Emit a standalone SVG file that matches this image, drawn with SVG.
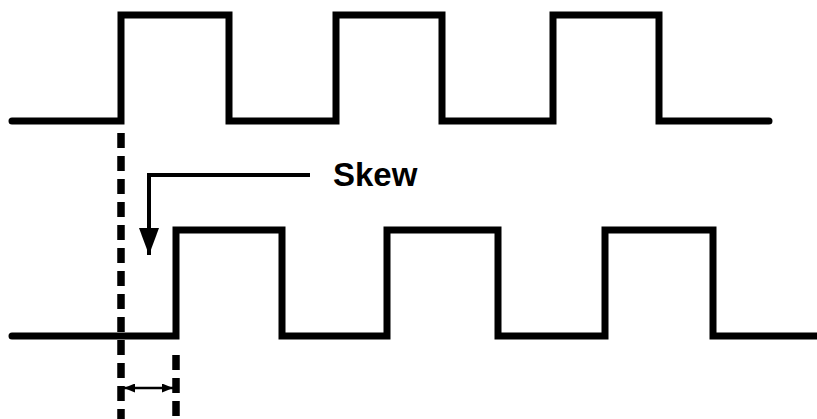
<svg xmlns="http://www.w3.org/2000/svg" width="817" height="419" viewBox="0 0 817 419">
<style>
.wave{fill:none;stroke:#000;stroke-width:7;stroke-linejoin:miter;stroke-linecap:round}
.dash{fill:none;stroke:#000;stroke-width:7.5;stroke-dasharray:15 8}
.thin{fill:none;stroke:#000;stroke-width:4}
.lbl{font-family:"Liberation Sans",Arial,sans-serif;font-weight:bold;font-size:33px;fill:#000}
</style>
<defs>
<marker id="ah" viewBox="0 0 27 20" refX="27" refY="10" markerWidth="27" markerHeight="20" markerUnits="userSpaceOnUse" orient="auto">
<path d="M0,0 L27,10 L0,20 Z" fill="#000"/>
</marker>
<marker id="sh" viewBox="0 0 11 9" refX="11" refY="4.5" markerWidth="11" markerHeight="9" markerUnits="userSpaceOnUse" orient="auto-start-reverse">
<path d="M0,0 L11,4.5 L0,9 Z" fill="#000"/>
</marker>
</defs>
<g id="clock-a">
<path class="wave" d="M12,121 H121 V15 H229 V121 H336 V15 H442 V121 H553 V15 H659 V121 H769"/>
</g>
<g id="clock-b">
<path class="wave" d="M12,336 H176 V230 H282 V336 H387 V230 H498 V336 H605 V230 H713 V336 H822"/>
</g>
<g id="connectors">
<path class="dash" d="M121,125 V419" stroke-dashoffset="-8"/>
<path class="dash" d="M176,355 V419"/>
<path class="thin" d="M310,175 H149 V255" marker-end="url(#ah)"/>
<path fill="none" stroke="#000" stroke-width="2.5" d="M124,388 H173" marker-start="url(#sh)" marker-end="url(#sh)"/>
</g>
<g id="label">
<text class="lbl" x="333" y="186">Skew</text>
</g>
</svg>
